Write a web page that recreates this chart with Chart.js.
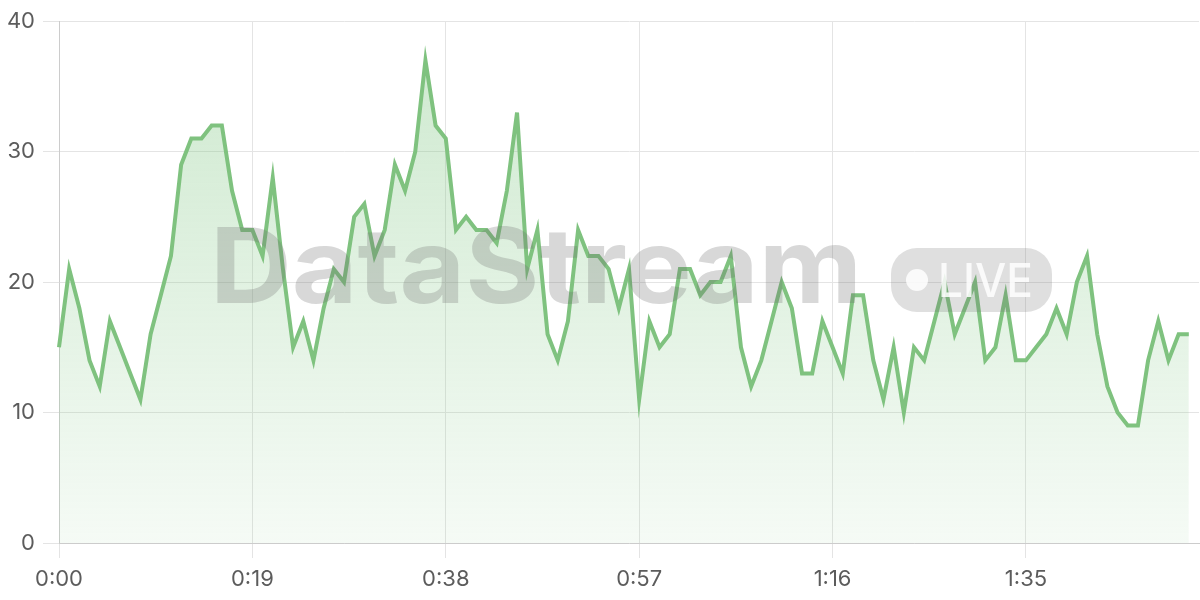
<!DOCTYPE html>
<html>
<head>
<meta charset="utf-8">
<title>DataStream live</title>
<script src="https://cdn.jsdelivr.net/npm/chart.js@4.4.1/dist/chart.umd.min.js"></script>
<style>
html,body{margin:0;padding:0;background:#fff;}
#wrap{position:relative;width:1200px;height:600px;overflow:hidden;}
#wrap canvas{position:absolute;left:0;top:0;}
#mark{position:absolute;left:0;top:0;pointer-events:none;}
</style>
</head>
<body>
<div id="wrap">
  <canvas id="streamChart" width="1200" height="600"></canvas>
  <!-- watermark sits over the plot, like the original -->
  <svg id="mark" width="1200" height="600">
    <text x="210" y="303" textLength="652" lengthAdjust="spacingAndGlyphs"
      font-family="Inter, 'Liberation Sans', sans-serif" font-weight="700" font-size="104"
      fill="rgba(110,110,110,0.27)">DataStream</text>
    <rect x="891" y="248" width="161" height="64" rx="26" fill="rgba(110,110,110,0.22)"/>
    <circle cx="917" cy="280" r="11" fill="rgba(255,255,255,0.85)"/>
    <text x="938" y="297" textLength="95" lengthAdjust="spacingAndGlyphs"
      font-family="Inter, 'Liberation Sans', sans-serif" font-weight="500" font-size="47"
      fill="rgba(255,255,255,0.85)">LIVE</text>
  </svg>
</div>
<script>
// --- data ---
const seconds = Array.from({length:113},(_,i)=>i);   // 0:00 .. 1:52
const values = [
  15,21,18,14,12,17,15,13,11,16,
  19,22,29,31,31,32,32,27,24,24,
  22,28,21,15,17,14,18,21,20,25,
  26,22,24,29,27,30,37,32,31,24,
  25,24,24,23,27,33,21,24,16,14,
  17,24,22,22,21,18,21,11,17,15,
  16,21,21,19,20,20,22,15,12,14,
  17,20,18,13,13,17,15,13,19,19,
  14,11,15,10,15,14,17,20,16,18,
  20,14,15,19,14,14,15,16,18,16,
  20,22,16,12,10,9,9,14,17,14,
  16,16
];
const xTickLabels = ['0:00','0:19','0:38','0:57','1:16','1:35'];
const yTicks = [0,10,20,30,40];

function fmt(s){
  const m = Math.floor(s/60), r = s%60;
  return m + ':' + (r<10 ? '0'+r : r);
}
const labels = seconds.map(fmt);

const green = '#7fc27f';
const tickFont = {family:"Inter, 'Liberation Sans', sans-serif", size:22};

const ctx = document.getElementById('streamChart').getContext('2d');
new Chart(ctx, {
  type:'line',
  data:{
    labels,
    datasets:[{
      data: values,
      borderColor: green,
      borderWidth: 4,
      pointRadius: 0,
      tension: 0,
      fill: 'origin',
      backgroundColor: (c) => {
        const area = c.chart.chartArea;
        if(!area) return 'rgba(129,199,132,0.2)';
        const g = c.chart.ctx.createLinearGradient(0, area.top, 0, area.bottom);
        g.addColorStop(0, 'rgba(129,199,132,0.40)');
        g.addColorStop(1, 'rgba(129,199,132,0.08)');
        return g;
      }
    }]
  },
  options:{
    responsive:false,
    animation:false,
    layout:{padding:{top:20, right:1, left:0, bottom:0}},
    plugins:{legend:{display:false}, tooltip:{enabled:false}},
    scales:{
      x:{
        offset:false,
        afterBuildTicks: (s) => {
          s.ticks = s.ticks.filter(t => xTickLabels.includes(labels[t.value]));
        },
        afterFit: (s) => { s.height = 57; },
        ticks:{autoSkip:false, maxRotation:0, padding:8, color:'#5c5c5c', font:tickFont},
        grid:{color:'#e4e4e4', tickLength:15},
        border:{color:'#cccccc'}
      },
      y:{
        min:0, max:40,
        afterBuildTicks: (s) => { s.ticks = yTicks.map(v => ({value:v})); },
        afterFit: (s) => { s.width = 59; },
        ticks:{padding:8, color:'#5c5c5c', font:tickFont},
        grid:{color:'#e4e4e4', tickLength:16},
        border:{color:'#cccccc'}
      }
    }
  }
});
</script>
</body>
</html>
